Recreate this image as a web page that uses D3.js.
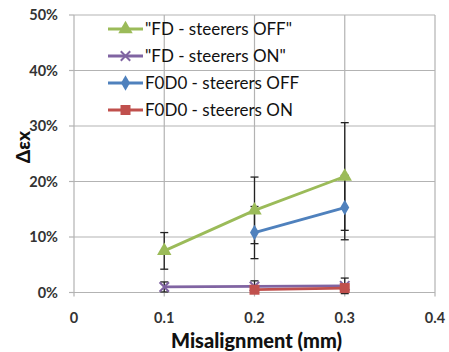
<!DOCTYPE html>
<html>
<head>
<meta charset="utf-8">
<script src="https://cdn.jsdelivr.net/npm/d3@7"></script>
<style>
  body { margin: 0; background: #fff; }
  svg { display: block; font-family: Lato, "Open Sans", sans-serif; }
</style>
</head>
<body>
<div id="chart"></div>
<script>
// misalignment values (mm)
const xTicks = [0, 0.1, 0.2, 0.3, 0.4];
const yTicks = [0, 0.1, 0.2, 0.3, 0.4, 0.5];

const seriesNames = ['"FD - steerers OFF"', '"FD - steerers ON"', 'F0D0 - steerers OFF', 'F0D0 - steerers ON'];
const seriesColors = ['#9bbb59', '#8064a2', '#4f81bd', '#c0504d'];
const seriesMarkers = ['triangle', 'cross', 'diamond', 'square'];

const fdOffX = [0.1, 0.2, 0.3];
const fdOffY = [0.075, 0.148, 0.209];
const fdOffErr = [0.033, 0.06, 0.097];

const fdOnX = [0.1, 0.2, 0.3];
const fdOnY = [0.010, 0.011, 0.012];
const fdOnErr = [0.009, 0.010, 0.014];

const f0d0OffX = [0.2, 0.3];
const f0d0OffY = [0.108, 0.153];
const f0d0OffErr = [0.047, 0.058];

const f0d0OnX = [0.2, 0.3];
const f0d0OnY = [0.005, 0.008];
const f0d0OnErr = [0.005, 0.006];

const series = [
  {x: fdOffX, y: fdOffY, err: fdOffErr},
  {x: fdOnX, y: fdOnY, err: fdOnErr},
  {x: f0d0OffX, y: f0d0OffY, err: f0d0OffErr},
  {x: f0d0OnX, y: f0d0OnY, err: f0d0OnErr}
];

const width = 449, height = 352;
const margin = {left: 74, right: 14, top: 15, bottom: 60};

const svg = d3.select('#chart').append('svg')
  .attr('width', width)
  .attr('height', height);

const x = d3.scaleLinear().domain([0, 0.4]).range([margin.left, width - margin.right]);
const y = d3.scaleLinear().domain([0, 0.5]).range([height - margin.bottom + 0.5, margin.top]);

// grid
svg.append('g').selectAll('line.h')
  .data(yTicks)
  .enter().append('line')
  .attr('x1', margin.left).attr('x2', width - margin.right)
  .attr('y1', d => y(d)).attr('y2', d => y(d))
  .attr('stroke', '#b3b3b3').attr('stroke-width', 1.2);

svg.append('g').selectAll('line.v')
  .data(xTicks)
  .enter().append('line')
  .attr('x1', d => x(d)).attr('x2', d => x(d))
  .attr('y1', margin.top).attr('y2', y(0) + 4)
  .attr('stroke', '#b3b3b3').attr('stroke-width', 1.2);

// y tick marks
svg.append('g').selectAll('line')
  .data(yTicks)
  .enter().append('line')
  .attr('x1', margin.left - 5).attr('x2', margin.left)
  .attr('y1', d => y(d)).attr('y2', d => y(d))
  .attr('stroke', '#b3b3b3').attr('stroke-width', 1.2);

// tick labels
svg.append('g').selectAll('text')
  .data(yTicks)
  .enter().append('text')
  .attr('x', margin.left - 16)
  .attr('y', d => y(d) + 5)
  .attr('text-anchor', 'end')
  .attr('font-size', 14.5)
  .attr('font-weight', 'bold')
  .attr('fill', '#333')
  .text(d => d3.format('.0%')(d));

svg.append('g').selectAll('text')
  .data(xTicks)
  .enter().append('text')
  .attr('x', d => x(d))
  .attr('y', y(0) + 30)
  .attr('text-anchor', 'middle')
  .attr('font-size', 14.5)
  .attr('font-weight', 'bold')
  .attr('fill', '#333')
  .text(d => d === 0 ? '0' : d3.format('.1f')(d));

// axis titles
svg.append('text')
  .attr('x', x(0.2) + 2)
  .attr('y', y(0) + 55)
  .attr('text-anchor', 'middle')
  .attr('font-size', 20)
  .attr('font-weight', 900)
  .attr('fill', '#111')
  .text('Misalignment (mm)');

svg.append('text')
  .attr('transform', `translate(30, ${y(0.262)}) rotate(-90)`)
  .attr('text-anchor', 'middle')
  .attr('font-size', 19)
  .attr('font-weight', 900)
  .attr('fill', '#111')
  .text('Δεx');

// error bars
series.forEach(s => {
  const g = svg.append('g');
  s.x.forEach((xv, i) => {
    const lo = s.y[i] - s.err[i], hi = s.y[i] + s.err[i];
    g.append('line')
      .attr('x1', x(xv)).attr('x2', x(xv))
      .attr('y1', y(lo)).attr('y2', y(hi))
      .attr('stroke', '#222').attr('stroke-width', 1.3);
    [lo, hi].forEach(v => {
      g.append('line')
        .attr('x1', x(xv) - 4).attr('x2', x(xv) + 4)
        .attr('y1', y(v)).attr('y2', y(v))
        .attr('stroke', '#222').attr('stroke-width', 1.3);
    });
  });
});

const markerSymbol = {
  triangle: d3.symbolTriangle,
  diamond: d3.symbolDiamond,
  square: d3.symbolSquare,
  cross: d3.symbolX
};
const markerSize = {triangle: 90, diamond: 70, square: 100, cross: 60};

function drawMarker(g, type, color, cx, cy) {
  const p = g.append('path')
    .attr('d', d3.symbol().type(markerSymbol[type]).size(markerSize[type])())
    .attr('transform', `translate(${cx},${cy})`);
  if (type === 'cross') {
    p.attr('fill', 'none').attr('stroke', color).attr('stroke-width', 2);
  } else {
    p.attr('fill', color);
  }
}

const line = d3.line().x(d => x(d[0])).y(d => y(d[1]));

series.forEach((s, k) => {
  const g = svg.append('g');
  const pts = s.x.map((xv, i) => [xv, s.y[i]]);
  g.append('path')
    .attr('d', line(pts))
    .attr('fill', 'none')
    .attr('stroke', seriesColors[k])
    .attr('stroke-width', 2.8);
  pts.forEach(p => drawMarker(g, seriesMarkers[k], seriesColors[k], x(p[0]), y(p[1])));
});

// legend
const legend = svg.append('g');
seriesNames.forEach((name, k) => {
  const ly = 29 + k * 27;
  legend.append('line')
    .attr('x1', 108).attr('x2', 143)
    .attr('y1', ly).attr('y2', ly)
    .attr('stroke', seriesColors[k]).attr('stroke-width', 2.8);
  drawMarker(legend, seriesMarkers[k], seriesColors[k], 125.5, ly);
  legend.append('text')
    .attr('x', 145)
    .attr('y', ly + 6)
    .attr('font-size', 17)
    .attr('fill', '#111')
    .text(name);
});
</script>
</body>
</html>
